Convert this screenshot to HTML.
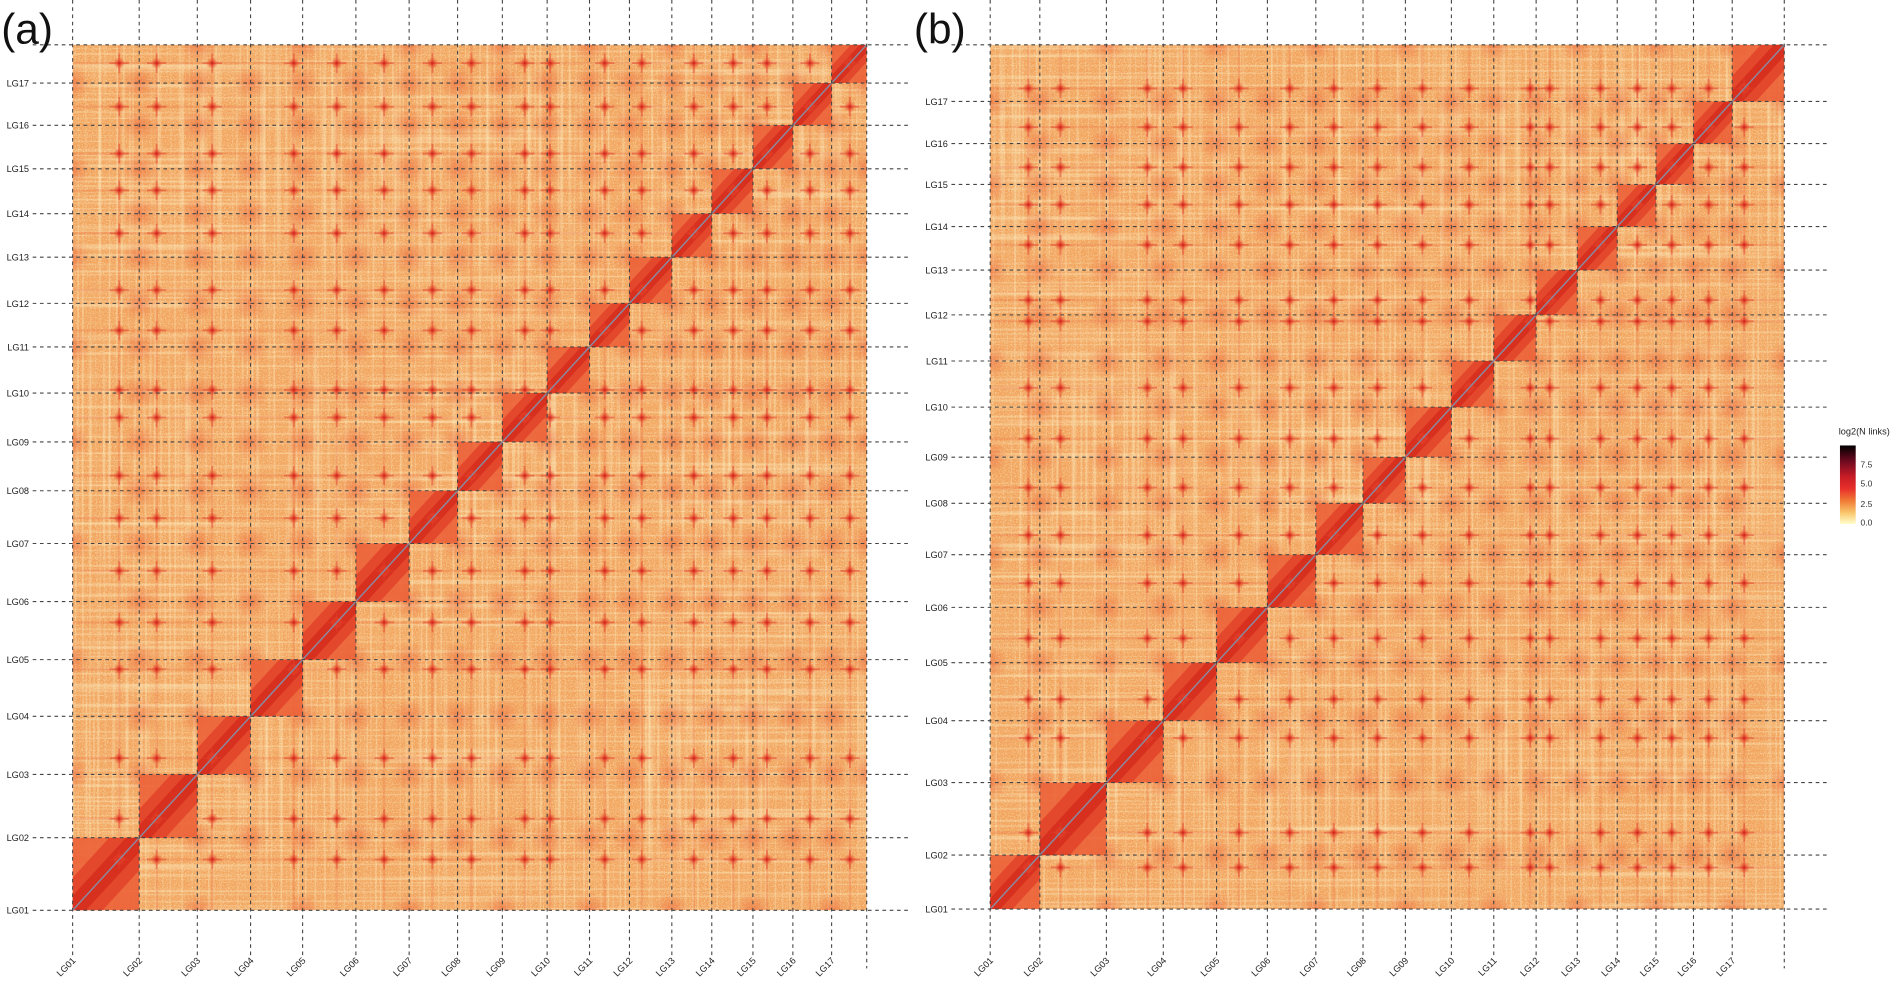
<!DOCTYPE html>
<html><head><meta charset="utf-8">
<style>
html,body{margin:0;padding:0;background:#fff;}
svg{display:block;font-family:"Liberation Sans",sans-serif;}
</style></head>
<body>
<svg id="s" width="1900" height="983" viewBox="0 0 1900 983" xmlns="http://www.w3.org/2000/svg">
<defs>
<filter id="noise" x="0" y="0" width="100%" height="100%">
<feTurbulence type="fractalNoise" baseFrequency="0.9 0.9" numOctaves="2" seed="3" result="t"/>
<feColorMatrix type="matrix" values="0 0 0 0 0.98  0 0 0 0 0.86  0 0 0 0 0.55  0 0 0 2.2 -1.0"/>
</filter>
<filter id="stripes" x="0" y="0" width="100%" height="100%">
<feTurbulence type="fractalNoise" baseFrequency="0.5 0.004" numOctaves="1" seed="7"/>
<feColorMatrix type="matrix" values="0 0 0 0 0.97  0 0 0 0 0.84  0 0 0 0 0.52  0 0 0 2.4 -1.2"/>
</filter>
<filter id="stripes2" x="0" y="0" width="100%" height="100%">
<feTurbulence type="fractalNoise" baseFrequency="0.004 0.5" numOctaves="1" seed="11"/>
<feColorMatrix type="matrix" values="0 0 0 0 0.97  0 0 0 0 0.84  0 0 0 0 0.52  0 0 0 2.4 -1.2"/>
</filter>
<radialGradient id="spot">
<stop offset="0" stop-color="#c81e1c" stop-opacity="1"/>
<stop offset="0.35" stop-color="#e23a26" stop-opacity="0.7"/>
<stop offset="1" stop-color="#ec5a30" stop-opacity="0"/>
</radialGradient>
<radialGradient id="blob">
<stop offset="0" stop-color="#ea5530" stop-opacity="0.5"/>
<stop offset="1" stop-color="#ec6a38" stop-opacity="0"/>
</radialGradient>
<linearGradient id="cb" x1="0" y1="1" x2="0" y2="0">
<stop offset="0" stop-color="#ffffcc"/>
<stop offset="0.15" stop-color="#f9c46a"/>
<stop offset="0.3" stop-color="#f07a36"/>
<stop offset="0.45" stop-color="#e8302a"/>
<stop offset="0.6" stop-color="#c81c26"/>
<stop offset="0.8" stop-color="#6e0a20"/>
<stop offset="1" stop-color="#000000"/>
</linearGradient>
<clipPath id="c0"><rect x="60" y="37" width="656" height="715"/></clipPath>
<clipPath id="c1"><rect x="818" y="37" width="656" height="714"/></clipPath>
</defs>
<g transform="scale(1.2105)">
<g id="g"></g>
<text x="1" y="36" font-size="35" fill="#111">(a)</text>
<text x="755" y="36" font-size="35" fill="#111">(b)</text>
<text x="1519" y="359" font-size="7.6" fill="#222">log2(N links)</text>
<rect x="1520" y="368" width="13" height="65" fill="url(#cb)"/>
<g font-size="7" fill="#333">
<text x="1537" y="386">7.5</text>
<text x="1537" y="402">5.0</text>
<text x="1537" y="419">2.5</text>
<text x="1537" y="434">0.0</text>
</g>
</g>
</svg>
<script>
(function(){
var NS="http://www.w3.org/2000/svg";
var g=document.getElementById("g");
function el(t,a,p){var e=document.createElementNS(NS,t);for(var k in a)e.setAttribute(k,a[k]);(p||g).appendChild(e);return e;}
var panels=[
 {B:[60,115,163,207,250,294,338,378,415,452,487,520,555,588,622,655,687,716],top:37,bot:752,
  F:[0.70,0.30,0.28,0.83,0.64,0.53,0.48,0.31,0.5,0.07,0.38,0.29,0.55,0.52,0.35,0.44,0.52],labx:24,hx2:752},
 {B:[818,859,914,961,1005,1047,1087,1126,1161,1199,1234,1269,1303,1336,1368,1399,1431,1474],top:37,bot:751,
  F:[0.77,0.31,0.72,0.37,0.44,0.46,0.38,0.34,0.37,0.42,0.86,0.33,0.58,0.52,0.42,0.39,0.23],labx:783,hx2:1510}
];
panels.forEach(function(P,pi){
 var B=P.B,x0=B[0],x1=B[17],W=x1-x0,H=P.bot-P.top;
 function Y(x){return P.bot-(x-x0)/W*H;}
 var Ys=B.map(Y);
 var cg=el("g",{"clip-path":"url(#c"+pi+")"});
 el("rect",{x:x0,y:P.top,width:W,height:H,fill:"#f2a45e"},cg);
 el("rect",{x:x0,y:P.top,width:W,height:H,filter:"url(#stripes)",opacity:0.8},cg);
 el("rect",{x:x0,y:P.top,width:W,height:H,filter:"url(#stripes2)",opacity:0.8},cg);
 el("rect",{x:x0,y:P.top,width:W,height:H,filter:"url(#noise)",opacity:0.7},cg);
 for(var i=0;i<17;i++)for(var j=0;j<17;j++){ if(i==j)continue;
  var cx=[B[i],B[i+1]][(i+j)%2], cy=[Ys[j],Ys[j+1]][(i*3+j)%2];
  el("circle",{cx:cx,cy:cy,r:15,fill:"url(#blob)"},cg);
 }
 var C=[],CY=[];
 for(var i=0;i<17;i++){C.push(B[i]+P.F[i]*(B[i+1]-B[i]));CY.push(Y(C[i]));}
 for(var i=0;i<17;i++){
  el("line",{x1:C[i],y1:P.top,x2:C[i],y2:P.bot,stroke:"#e8502c","stroke-width":2,opacity:0.18},cg);
  el("line",{x1:x0,y1:CY[i],x2:x1,y2:CY[i],stroke:"#e8502c","stroke-width":2,opacity:0.18},cg);
 }
 for(var i=0;i<17;i++){
  var a=B[i],b=B[i+1],ya=Ys[i],yb=Ys[i+1],w=b-a,h=ya-yb;
  el("rect",{x:a,y:yb,width:w,height:h,fill:"#ec6238",opacity:0.9},cg);
  var d=0.45;
  el("polygon",{points:[a,ya,a+w*d,ya,b,yb+h*d,b,yb,b-w*d,yb,a,ya-h*d].join(" "),fill:"#e4482c"},cg);
  d=0.2;
  el("polygon",{points:[a,ya,a+w*d,ya,b,yb+h*d,b,yb,b-w*d,yb,a,ya-h*d].join(" "),fill:"#d8301f"},cg);
 }
 for(var i=0;i<17;i++)for(var j=0;j<17;j++){
  var cx=C[i],cy=CY[j];
  el("line",{x1:cx-8,y1:cy,x2:cx+8,y2:cy,stroke:"#e03c28","stroke-width":1.5,opacity:0.45},cg);
  el("line",{x1:cx,y1:cy-8,x2:cx,y2:cy+8,stroke:"#e03c28","stroke-width":1.5,opacity:0.45},cg);
  el("circle",{cx:cx,cy:cy,r:5,fill:"url(#spot)"},cg);
 }
 el("line",{x1:x0,y1:P.bot,x2:x1,y2:P.top,stroke:"#8a8aa0","stroke-width":1.2},cg);
 var gs={stroke:"#444","stroke-width":0.9,"stroke-dasharray":"3,3",fill:"none"};
 for(var i=0;i<18;i++){
  var o={x1:B[i],y1:0,x2:B[i],y2:(i<17?790:800)};for(var k in gs)o[k]=gs[k];el("line",o);
  var o2={x1:P.labx+3,y1:Ys[i],x2:P.hx2,y2:Ys[i]};for(var k in gs)o2[k]=gs[k];el("line",o2);
 }
 for(var i=0;i<17;i++){
  var n="LG"+(i<9?"0":"")+(i+1);
  var t=el("text",{x:P.labx,y:Ys[i]+2.8,"font-size":7.6,fill:"#222","text-anchor":"end"});t.textContent=n;
  var t2=el("text",{x:B[i]+3,y:794,"font-size":7.6,fill:"#222","text-anchor":"end",transform:"rotate(-45 "+(B[i]+3)+" 794)"});t2.textContent=n;
 }
});
})();
</script>
</body></html>
